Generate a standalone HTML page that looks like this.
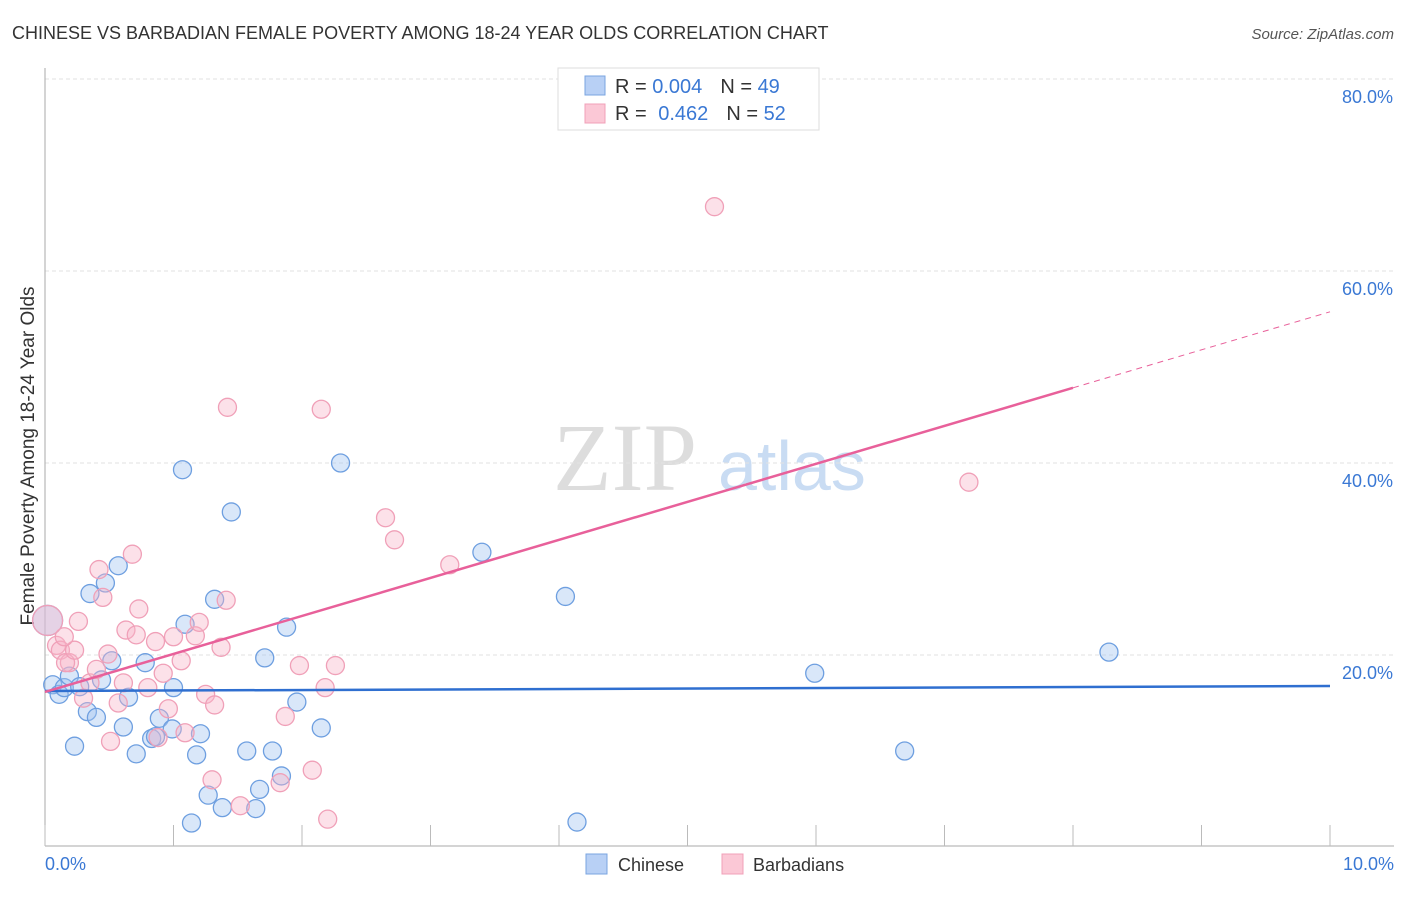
<!DOCTYPE html>
<html><head><meta charset="utf-8"><style>
body{margin:0;background:#fff;font-family:"Liberation Sans",sans-serif}
</style></head><body>
<svg id="chart" width="1406" height="892" xmlns="http://www.w3.org/2000/svg" font-family="Liberation Sans, sans-serif">
<text x="12" y="39" font-size="18" fill="#333">CHINESE VS BARBADIAN FEMALE POVERTY AMONG 18-24 YEAR OLDS CORRELATION CHART</text>
<text x="1394" y="39" font-size="15" fill="#555" font-style="italic" text-anchor="end">Source: ZipAtlas.com</text>
<g>
<text x="553" y="490" font-size="96" fill="#ddd" style="font-family:'Liberation Serif',serif">ZIP</text>
<text x="718" y="490" font-size="70" fill="#c9dcf3">atlas</text>
</g>
<g id="grid"></g>
<line x1="45" y1="68" x2="45" y2="846" stroke="#aaa"/>
<line x1="45" y1="846" x2="1394" y2="846" stroke="#aaa"/>
<g id="xticks"></g>
<text transform="translate(34,456) rotate(-90)" font-size="19" fill="#333" text-anchor="middle">Female Poverty Among 18-24 Year Olds</text>
<text x="45" y="870" font-size="18" fill="#3a78d4">0.0%</text>
<text x="1394" y="870" font-size="18" fill="#3a78d4" text-anchor="end">10.0%</text>
<g id="points"></g>
<g id="trends"></g>
<g>
<rect x="558" y="68" width="261" height="62" fill="#fff" stroke="#ddd"/>
<rect x="585" y="76" width="20" height="19" fill="#b8d0f5" stroke="#7aa4e0"/>
<rect x="585" y="104" width="20" height="19" fill="#fbc8d6" stroke="#f0a0b8"/>
<text x="615" y="93" font-size="20" fill="#333">R = <tspan fill="#3a78d4">0.004</tspan><tspan dx="18">N = </tspan><tspan fill="#3a78d4">49</tspan></text>
<text x="615" y="120" font-size="20" fill="#333">R = <tspan fill="#3a78d4" dx="6">0.462</tspan><tspan dx="18">N = </tspan><tspan fill="#3a78d4">52</tspan></text>
</g>
<g><rect x="586" y="854" width="21" height="20" fill="#b8d0f5" stroke="#7aa4e0"/><text x="618" y="871" font-size="18" fill="#333">Chinese</text></g>
<g><rect x="722" y="854" width="21" height="20" fill="#fbc8d6" stroke="#f0a0b8"/><text x="753" y="871" font-size="18" fill="#333">Barbadians</text></g>
</svg>
<script>
const yTicks=[20,40,60,80];
const xTicks=[0,1,2,3,4,5,6,7,8,9,10];
const chineseX=[0.06,0.11,0.15,0.19,0.27,0.33,0.40,0.23,0.35,0.47,0.57,0.52,0.44,0.65,0.61,0.71,0.78,0.83,0.86,0.89,0.99,1.00,1.07,1.09,1.18,1.21,1.27,1.32,1.38,1.45,1.57,1.64,1.67,1.71,1.77,1.84,1.88,1.96,2.15,2.30,3.40,4.05,4.14,5.99,6.69,8.28,1.14,0.02];
const chineseY=[16.9,15.9,16.6,17.8,16.7,14.1,13.5,10.5,26.4,27.5,29.3,19.4,17.4,15.6,12.5,9.7,19.2,11.3,11.5,13.4,12.3,16.6,39.3,23.2,9.6,11.8,5.4,25.8,4.1,34.9,10.0,4.0,6.0,19.7,10.0,7.4,22.9,15.1,12.4,40.0,30.7,26.1,2.6,18.1,10.0,20.3,2.5,23.6];
const barbX=[0.09,0.12,0.19,0.16,0.26,0.23,0.30,0.35,0.42,0.45,0.49,0.51,0.57,0.61,0.63,0.68,0.71,0.73,0.80,0.86,0.88,0.92,0.96,1.00,1.06,1.09,1.17,1.20,1.25,1.30,1.32,1.37,1.41,1.42,1.52,1.83,1.87,1.98,2.08,2.15,2.18,2.20,2.26,2.65,2.72,3.15,5.21,7.19,0.40,0.15,0.02];
const barbY=[21.0,20.5,19.2,19.2,23.5,20.5,15.5,17.1,28.9,26.0,20.1,11.0,15.0,17.1,22.6,30.5,22.1,24.8,16.6,21.4,11.4,18.1,14.4,21.9,19.4,11.9,22.0,23.4,15.9,7.0,14.8,20.8,25.7,45.8,4.3,6.7,13.6,18.9,8.0,45.6,16.6,2.9,18.9,34.3,32.0,29.4,66.7,38.0,18.5,21.9,23.6];
const chineseTrend=[16.25,16.77];
const barbTrend=[16.15,55.75];
const NS="http://www.w3.org/2000/svg";
const xs=v=>45+v*128.5, ys=v=>847-v*9.6;
function mk(tag,attrs,parent){const e=document.createElementNS(NS,tag);for(const k in attrs)e.setAttribute(k,attrs[k]);document.getElementById(parent).appendChild(e);return e;}
yTicks.forEach(t=>{
 const l=mk('line',{x1:45,x2:1394,y1:ys(t),y2:ys(t),stroke:'#e2e2e2','stroke-dasharray':'4,3'},'grid');
 
 
 const tx=mk('text',{x:1393,y:ys(t)+24,'font-size':18,fill:'#3a78d4','text-anchor':'end'},'grid');tx.textContent=t.toFixed(1)+'%';
 
 
});
xTicks.forEach(t=>{
 const l=mk('line',{x1:xs(t),x2:xs(t),y1:825,y2:846,stroke:'#bbb'},'xticks');
 
 
});
function pts(X,Y,fill,stroke,name){X.forEach((x,i)=>{
 const big=(i===X.length-1);
 const c=mk('circle',{cx:xs(x),cy:ys(Y[i]),r:big?15:9,fill:fill,stroke:stroke,'stroke-width':1.3},'points');
 
 
});}
pts(chineseX,chineseY,'rgba(160,196,240,0.4)','#6e9fe0','chinese-point');
pts(barbX,barbY,'rgba(248,180,200,0.4)','#f0a0b8','barbadian-point');
const bl=mk('line',{x1:xs(0),y1:ys(chineseTrend[0]),x2:xs(10),y2:ys(chineseTrend[1]),stroke:'#2f6fd0','stroke-width':2.5},'trends');


const py=x=>barbTrend[0]+(barbTrend[1]-barbTrend[0])*x/10;
const pl=mk('line',{x1:xs(0),y1:ys(py(0)),x2:xs(8),y2:ys(py(8)),stroke:'#e8609a','stroke-width':2.5},'trends');


const pd=mk('line',{x1:xs(8),y1:ys(py(8)),x2:xs(10),y2:ys(py(10)),stroke:'#e8609a','stroke-width':1,'stroke-dasharray':'6,5'},'trends');


</script>
</body></html>
